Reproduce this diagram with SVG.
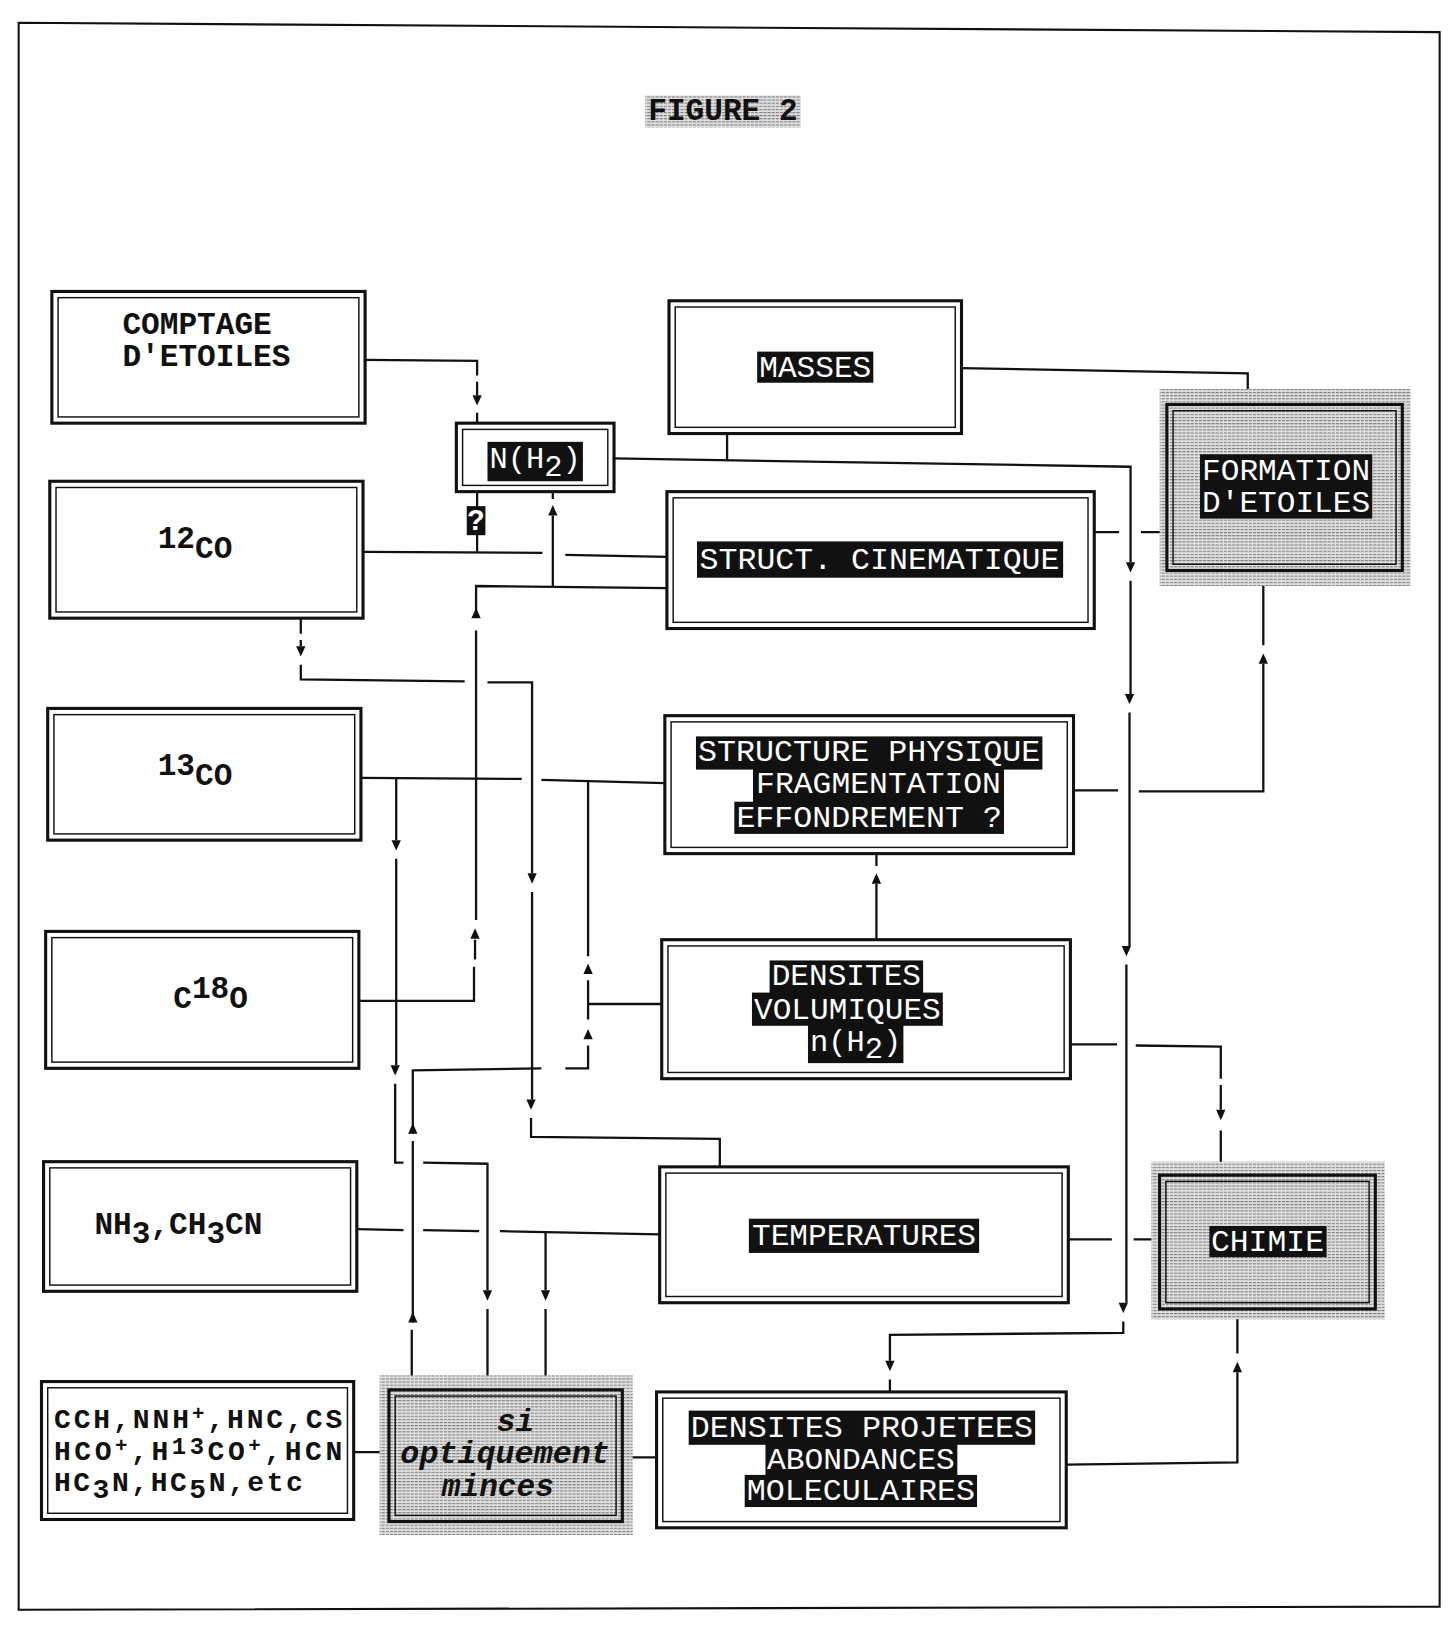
<svg xmlns="http://www.w3.org/2000/svg" width="1448" height="1627" viewBox="0 0 1448 1627">
<defs>
<style>
.o{fill:none;stroke:#111;stroke-width:3}
.i{fill:none;stroke:#111;stroke-width:1.4}
.bg{fill:#111}
.lb{font-family:"Liberation Mono","DejaVu Sans Mono",monospace;font-size:28px;fill:#fff}
.bt{font-family:"Liberation Mono","DejaVu Sans Mono",monospace;font-size:30px;font-weight:bold;fill:#111}
.sm{font-family:"Liberation Mono","DejaVu Sans Mono",monospace;font-size:27px;font-weight:bold;fill:#111}
.sup{font-size:20px}
.it{font-family:"Liberation Mono","DejaVu Sans Mono",monospace;font-size:30px;font-weight:bold;font-style:italic;fill:#111}
.ln{fill:none;stroke:#111;stroke-width:2.2}
.ar{fill:#111}
</style>
<pattern id="ht" width="4" height="3" patternUnits="userSpaceOnUse"><rect width="4" height="3" fill="#dedede"/><rect width="3" height="1" fill="#7c7c7c"/></pattern>
<pattern id="htd" width="4" height="3" patternUnits="userSpaceOnUse"><rect width="4" height="3" fill="#ababab"/><rect width="4" height="1" fill="#555"/><rect y="2" width="2" height="1" fill="#777"/></pattern>
<path id="ad" d="M-4.5,-10 L4.5,-10 L0,0 Z"/>
<path id="au" d="M-4.5,10 L4.5,10 L0,0 Z"/>
</defs>
<rect width="1448" height="1627" fill="#fff"/>
<g id="diagram" transform="scale(1.0372)">
<path id="frame" d="M18,22 L1388,31 L1388,1549 L18,1552 Z" fill="none" stroke="#111" stroke-width="2"/>

<g id="title">
<rect x="622" y="92" width="150" height="31" fill="url(#ht)"/>
<text x="697" y="116" class="bt" font-size="27" text-anchor="middle" textLength="144" lengthAdjust="spacing">FIGURE 2</text>
</g>

<g id="connectors" class="ln">
<path d="M352,347 L460,348 V362 M460,368 V381 M460,398 V408"/>
<path d="M460,474 V532"/>
<path d="M350,532 L523,533 M545,535 L643,537"/>
<path d="M533,565 V497 M533,481 V474"/>
<path d="M643,567 L459,565 V595 M459,608 V887 M458,906 V925 M457,932 V965 L346,965"/>
<path d="M592,442 L1090,450 V542 M1090,560 V669 M1089,687 V912 M1086,930 V1256 M1083,1274 V1285 L858,1287 V1312 M858,1330 V1342"/>
<path d="M701,418 V444"/>
<path d="M927,355 L1203,360 V390"/>
<path d="M1055,513 H1079 M1100,513 H1125"/>
<path d="M1035,762 H1078 M1098,763 H1218 V640 M1218,622 V550"/>
<path d="M290,596 V611 M290,617 V623 M290,641 V655 L448,657 M470,658 L513,658 V842 M513,860 V1060 M512,1078 V1096 L694,1098 V1125"/>
<path d="M348,750 L503,751 M522,752 L641,755"/>
<path d="M382,751 V810 M382,828 V1027 M381,1045 V1121 L389,1121 M408,1121 L470,1122 V1244 M470,1262 V1340"/>
<path d="M567,753 V922 M567,945 V983 M567,1008 V1030 L545,1030 M522,1030 L398,1032 V1093 M398,1100 V1275 M397,1282 V1340"/>
<path d="M638,968 H567"/>
<path d="M344,1185 L389,1186 M408,1186 L462,1187 M482,1187 L636,1190"/>
<path d="M526,1188 V1244 M526,1262 V1340"/>
<path d="M341,1400 H375"/>
<path d="M600,1405 H633"/>
<path d="M1028,1412 L1193,1410 V1323 M1193,1305 V1262"/>
<path d="M1030,1195 H1072 M1093,1195 H1118"/>
<path d="M1032,1007 H1077 M1095,1008 L1177,1009 V1040 M1177,1046 V1070 M1177,1090 V1133"/>
<path d="M845,906 V852 M845,835 V823"/>
<g class="ar" stroke="none">
<use href="#ad" x="460" y="391"/>
<use href="#ad" x="290" y="633"/>
<use href="#ad" x="513" y="852"/>
<use href="#ad" x="512" y="1070"/>
<use href="#ad" x="382" y="820"/>
<use href="#ad" x="381" y="1037"/>
<use href="#ad" x="470" y="1254"/>
<use href="#ad" x="526" y="1254"/>
<use href="#ad" x="1090" y="552"/>
<use href="#ad" x="1089" y="679"/>
<use href="#ad" x="1086" y="922"/>
<use href="#ad" x="1083" y="1266"/>
<use href="#ad" x="858" y="1322"/>
<use href="#ad" x="1177" y="1080"/>
<use href="#au" x="533" y="487"/>
<use href="#au" x="459" y="586"/>
<use href="#au" x="458" y="895"/>
<use href="#au" x="567" y="929"/>
<use href="#au" x="567" y="992"/>
<use href="#au" x="398" y="1083"/>
<use href="#au" x="398" y="1265"/>
<use href="#au" x="845" y="842"/>
<use href="#au" x="1218" y="630"/>
<use href="#au" x="1193" y="1313"/>
</g>
</g>

<g id="n-comptage">
<rect class="o" x="50" y="281" width="302" height="127"/>
<rect class="i" x="56" y="287" width="290" height="115"/>
<text class="bt" x="118" y="322">COMPTAGE</text>
<text class="bt" x="118" y="353">D'ETOILES</text>
</g>

<g id="n-masses">
<rect class="o" x="645" y="290" width="282" height="128"/>
<rect class="i" x="651" y="296" width="270" height="116"/>
<rect class="bg" x="730" y="339" width="112" height="30"/>
<text class="lb" x="786" y="363" text-anchor="middle" textLength="108" lengthAdjust="spacingAndGlyphs">MASSES</text>
</g>

<g id="n-nh2">
<rect class="o" x="440" y="408" width="152" height="66"/>
<rect class="i" x="446" y="414" width="140" height="54"/>
<rect class="bg" x="470" y="426" width="92" height="38"/>
<text class="lb" x="472" y="451" textLength="88" lengthAdjust="spacingAndGlyphs">N(H<tspan dy="8">2</tspan><tspan dy="-8">)</tspan></text>
</g>

<g id="n-q">
<rect class="bg" x="450" y="488" width="18" height="28"/>
<text class="lb" x="459" y="511" font-size="26" font-weight="bold" text-anchor="middle">?</text>
</g>

<g id="n-12co">
<rect class="o" x="48" y="464" width="302" height="132"/>
<rect class="i" x="54" y="470" width="290" height="120"/>
<text class="bt" x="152" y="528">12<tspan dy="10">CO</tspan></text>
</g>

<g id="n-cinematique">
<rect class="o" x="643" y="474" width="412" height="132"/>
<rect class="i" x="649" y="480" width="400" height="120"/>
<rect class="bg" x="672" y="522" width="353" height="35"/>
<text class="lb" x="848" y="549" text-anchor="middle" textLength="347" lengthAdjust="spacingAndGlyphs">STRUCT. CINEMATIQUE</text>
</g>

<g id="n-formation">
<rect x="1118" y="375" width="242" height="190" fill="url(#ht)"/>
<rect class="o" x="1125" y="390" width="227" height="160" fill="url(#htd)"/>
<rect class="i" x="1131" y="396" width="215" height="148"/>
<rect class="bg" x="1157" y="438" width="166" height="62"/>
<text class="lb" x="1240" y="463" text-anchor="middle" textLength="162" lengthAdjust="spacingAndGlyphs">FORMATION</text>
<text class="lb" x="1240" y="494" text-anchor="middle" textLength="162" lengthAdjust="spacingAndGlyphs">D'ETOILES</text>
</g>

<g id="n-13co">
<rect class="o" x="46" y="683" width="302" height="127"/>
<rect class="i" x="52" y="689" width="290" height="115"/>
<text class="bt" x="152" y="747">13<tspan dy="10">CO</tspan></text>
</g>

<g id="n-structure">
<rect class="o" x="641" y="690" width="394" height="133"/>
<rect class="i" x="647" y="696" width="382" height="121"/>
<rect class="bg" x="671" y="710" width="334" height="32"/>
<rect class="bg" x="726" y="741" width="242" height="33"/>
<rect class="bg" x="708" y="773" width="260" height="31"/>
<text class="lb" x="838" y="734" text-anchor="middle" textLength="330" lengthAdjust="spacingAndGlyphs">STRUCTURE PHYSIQUE</text>
<text class="lb" x="847" y="765" text-anchor="middle" textLength="236" lengthAdjust="spacingAndGlyphs">FRAGMENTATION</text>
<text class="lb" x="838" y="797" text-anchor="middle" textLength="256" lengthAdjust="spacingAndGlyphs">EFFONDREMENT ?</text>
</g>

<g id="n-c18o">
<rect class="o" x="44" y="898" width="302" height="132"/>
<rect class="i" x="50" y="904" width="290" height="120"/>
<text class="bt" x="167" y="972">C<tspan dy="-10">18</tspan><tspan dy="10">O</tspan></text>
</g>

<g id="n-densvol">
<rect class="o" x="638" y="906" width="394" height="134"/>
<rect class="i" x="644" y="912" width="382" height="122"/>
<rect class="bg" x="742" y="926" width="148" height="32"/>
<rect class="bg" x="725" y="957" width="184" height="32"/>
<rect class="bg" x="779" y="988" width="92" height="37"/>
<text class="lb" x="816" y="950" text-anchor="middle" textLength="144" lengthAdjust="spacingAndGlyphs">DENSITES</text>
<text class="lb" x="817" y="982" text-anchor="middle" textLength="180" lengthAdjust="spacingAndGlyphs">VOLUMIQUES</text>
<text class="lb" x="781" y="1013" textLength="88" lengthAdjust="spacingAndGlyphs">n(H<tspan dy="7">2</tspan><tspan dy="-7">)</tspan></text>
</g>

<g id="n-nh3">
<rect class="o" x="42" y="1120" width="302" height="125"/>
<rect class="i" x="48" y="1126" width="290" height="113"/>
<text class="bt" x="91" y="1190">NH<tspan dy="8">3</tspan><tspan dy="-8">,CH</tspan><tspan dy="8">3</tspan><tspan dy="-8">CN</tspan></text>
</g>

<g id="n-temperatures">
<rect class="o" x="636" y="1125" width="394" height="131"/>
<rect class="i" x="642" y="1131" width="382" height="119"/>
<rect class="bg" x="722" y="1175" width="222" height="33"/>
<text class="lb" x="833" y="1200" text-anchor="middle" textLength="216" lengthAdjust="spacingAndGlyphs">TEMPERATURES</text>
</g>

<g id="n-chimie">
<rect x="1110" y="1120" width="225" height="152" fill="url(#ht)"/>
<rect class="o" x="1118" y="1133" width="208" height="129" fill="url(#htd)"/>
<rect class="i" x="1124" y="1139" width="196" height="117"/>
<rect class="bg" x="1166" y="1182" width="113" height="30"/>
<text class="lb" x="1222" y="1206" text-anchor="middle" textLength="109" lengthAdjust="spacingAndGlyphs">CHIMIE</text>
</g>

<g id="n-cch">
<rect class="o" x="40" y="1332" width="301" height="133"/>
<rect class="i" x="46" y="1338" width="289" height="121"/>
<text class="sm" x="52" y="1377" textLength="278" lengthAdjust="spacing">CCH,NNH<tspan class="sup" dy="-8">+</tspan><tspan dy="8">,HNC,CS</tspan></text>
<text class="sm" x="52" y="1408" textLength="278" lengthAdjust="spacing">HCO<tspan class="sup" dy="-8">+</tspan><tspan dy="8">,H</tspan><tspan font-size="23" dy="-6">13</tspan><tspan dy="6">CO</tspan><tspan class="sup" dy="-8">+</tspan><tspan dy="8">,HCN</tspan></text>
<text class="sm" x="52" y="1438" textLength="240" lengthAdjust="spacing">HC<tspan dy="6">3</tspan><tspan dy="-6">N,HC</tspan><tspan dy="6">5</tspan><tspan dy="-6">N,etc</tspan></text>
</g>

<g id="n-si">
<rect x="366" y="1326" width="244" height="154" fill="url(#ht)"/>
<rect class="o" x="375" y="1340" width="225" height="127" fill="url(#htd)"/>
<rect class="i" x="381" y="1346" width="213" height="115"/>
<text class="it" x="497" y="1380" text-anchor="middle">si</text>
<text class="it" x="487" y="1411" text-anchor="middle" textLength="202" lengthAdjust="spacingAndGlyphs">optiquement</text>
<text class="it" x="480" y="1442" text-anchor="middle">minces</text>
</g>

<g id="n-densproj">
<rect class="o" x="633" y="1342" width="395" height="131"/>
<rect class="i" x="639" y="1348" width="383" height="119"/>
<rect class="bg" x="664" y="1360" width="334" height="33"/>
<rect class="bg" x="738" y="1392" width="185" height="31"/>
<rect class="bg" x="718" y="1422" width="224" height="31"/>
<text class="lb" x="831" y="1385" text-anchor="middle" textLength="330" lengthAdjust="spacingAndGlyphs">DENSITES PROJETEES</text>
<text class="lb" x="830" y="1416" text-anchor="middle" textLength="181" lengthAdjust="spacingAndGlyphs">ABONDANCES</text>
<text class="lb" x="830" y="1446" text-anchor="middle" textLength="220" lengthAdjust="spacingAndGlyphs">MOLECULAIRES</text>
</g>
</g>
</svg>
